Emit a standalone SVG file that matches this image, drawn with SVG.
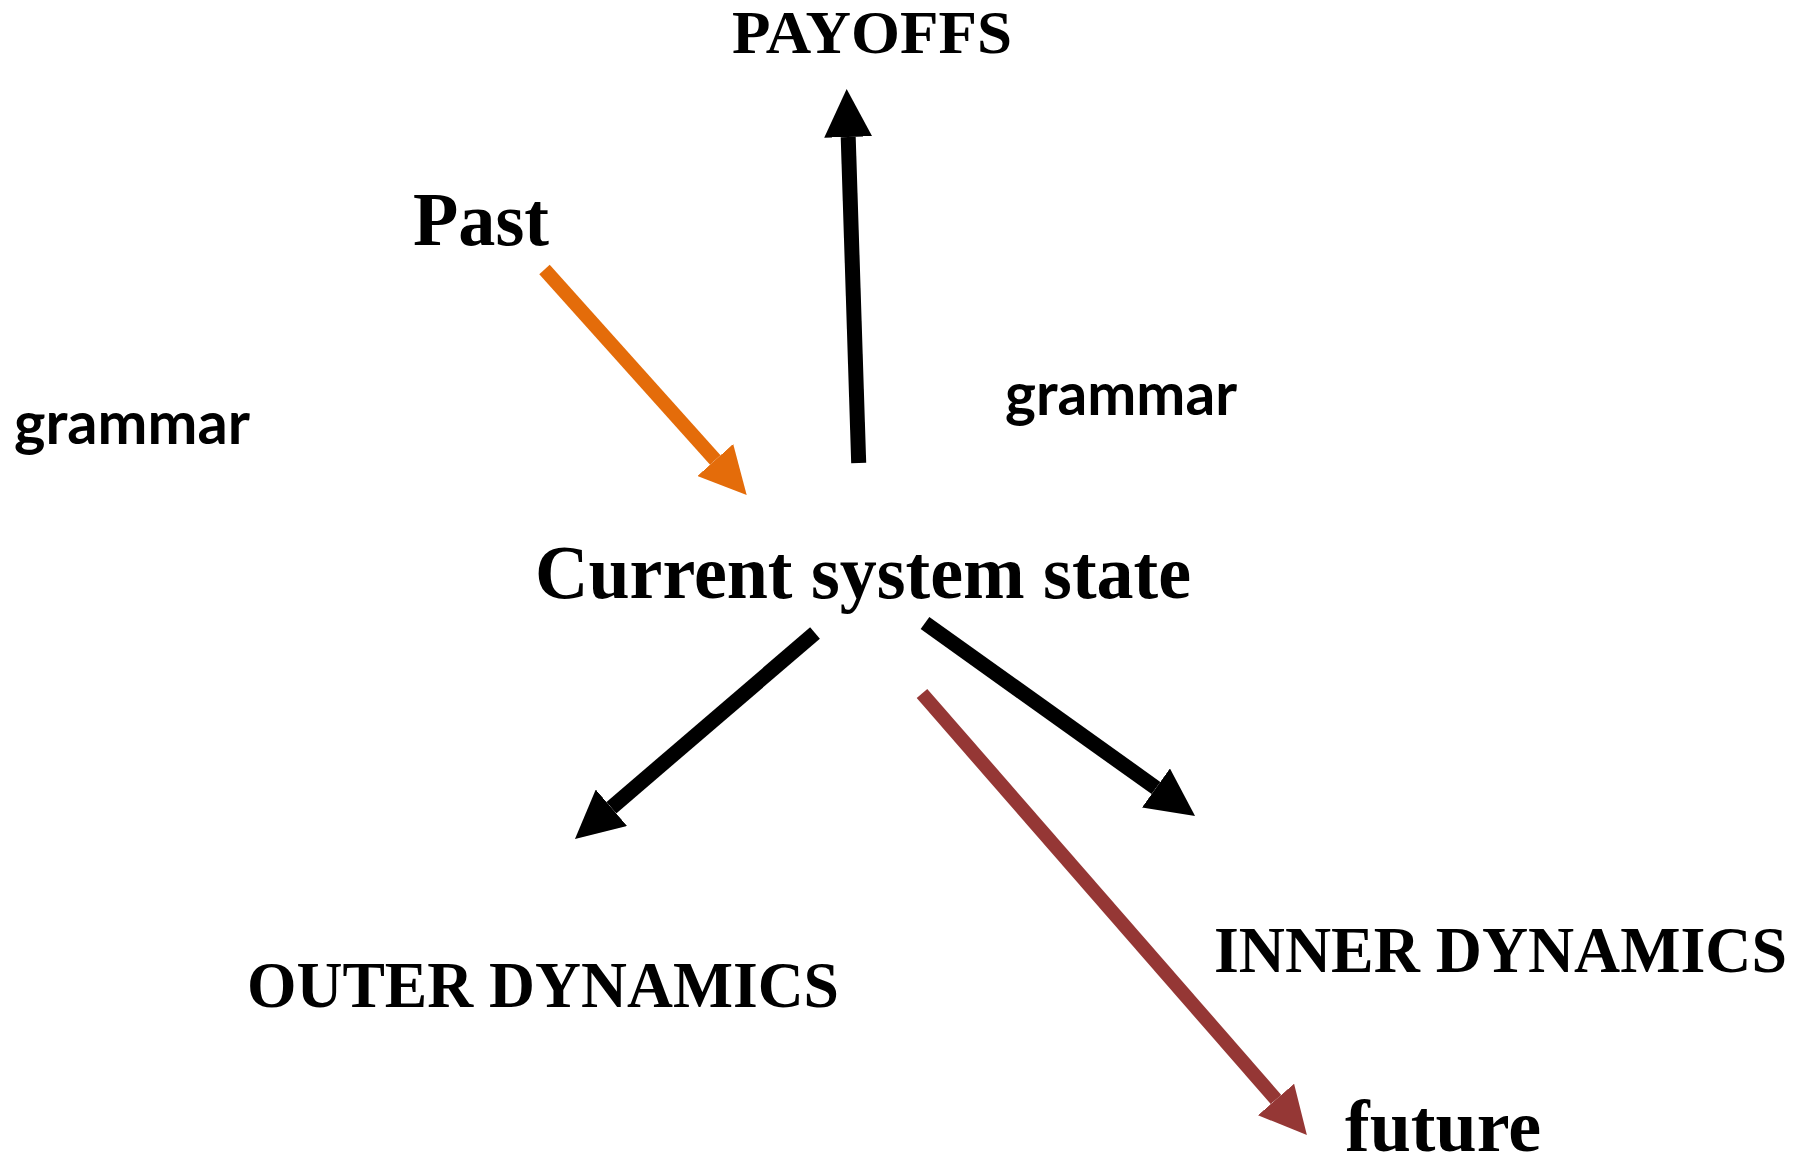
<svg xmlns="http://www.w3.org/2000/svg" width="1810" height="1156" viewBox="0 0 1810 1156">
<style>
.serif{font-family:"Liberation Serif","Times New Roman",serif;font-weight:bold;fill:#000}
.sans{font-family:Lato,"Open Sans",sans-serif;font-weight:bold;fill:#000}
.blk{stroke:#000;stroke-width:15;fill:none}
.org{stroke:#E46C0A;stroke-width:14;fill:none}
.red{stroke:#953735;stroke-width:14;fill:none}
</style>
<defs>
<marker id="hBlk" markerUnits="userSpaceOnUse" viewBox="0 -24 48 48" markerWidth="48" markerHeight="48" refX="0" refY="0" orient="auto"><path d="M0,-24 L48,0 L0,24 z" fill="#000"/></marker>
<marker id="hOrg" markerUnits="userSpaceOnUse" viewBox="0 -24 48 48" markerWidth="48" markerHeight="48" refX="0" refY="0" orient="auto"><path d="M0,-24 L47,0 L0,24 z" fill="#E46C0A"/></marker>
<marker id="hRed" markerUnits="userSpaceOnUse" viewBox="0 -24 48 48" markerWidth="48" markerHeight="48" refX="0" refY="0" orient="auto"><path d="M0,-24 L47,0 L0,24 z" fill="#953735"/></marker>
</defs>
<rect width="1810" height="1156" fill="#fff"/>
<g id="connectors">
<line class="blk" x1="858.7" y1="463" x2="848.2" y2="137" marker-end="url(#hBlk)"/>
<line class="org" x1="544.5" y1="269.5" x2="715.3" y2="460" marker-end="url(#hOrg)"/>
<line class="blk" x1="815" y1="633" x2="611.4" y2="807.7" marker-end="url(#hBlk)"/>
<line class="blk" x1="925" y1="623" x2="1156" y2="788" marker-end="url(#hBlk)"/>
<line class="red" x1="922" y1="693.5" x2="1276" y2="1099.5" marker-end="url(#hRed)"/>
</g>
<g id="payoffs"><text class="serif" x="732" y="53" font-size="62" textLength="280" lengthAdjust="spacingAndGlyphs">PAYOFFS</text></g>
<g id="past"><text class="serif" x="413" y="245" font-size="76" textLength="136" lengthAdjust="spacingAndGlyphs">Past</text></g>
<g id="grammar-left"><text class="sans" x="14" y="444" font-size="59" textLength="236" lengthAdjust="spacingAndGlyphs">grammar</text></g>
<g id="grammar-right"><text class="sans" x="1005" y="415" font-size="59" textLength="232" lengthAdjust="spacingAndGlyphs">grammar</text></g>
<g id="current"><text class="serif" x="535" y="598" font-size="76" textLength="656" lengthAdjust="spacingAndGlyphs">Current system state</text></g>
<g id="outer"><text class="serif" x="247" y="1007" font-size="65" textLength="592" lengthAdjust="spacingAndGlyphs">OUTER DYNAMICS</text></g>
<g id="inner"><text class="serif" x="1214" y="972" font-size="65" textLength="573" lengthAdjust="spacingAndGlyphs">INNER DYNAMICS</text></g>
<g id="future"><text class="serif" x="1345" y="1151" font-size="74" textLength="196" lengthAdjust="spacingAndGlyphs">future</text></g>
</svg>
